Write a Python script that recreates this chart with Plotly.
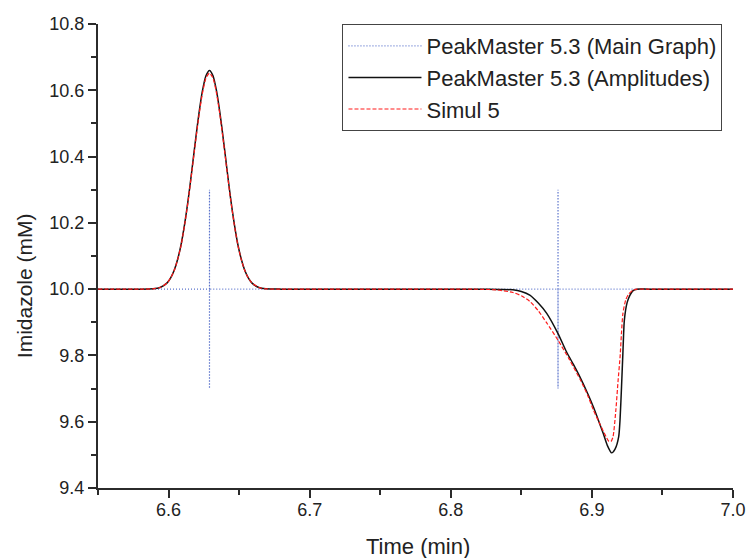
import plotly.graph_objects as go

# ---- data ----
main_x = [6.55, 6.629, 6.629, 6.629, 6.629, 6.876, 6.876, 6.876, 6.876, 7.0]
main_y = [10.0, 10.0, 10.3, 9.7, 10.0, 10.0, 10.3, 9.7, 10.0, 10.0]

amp_x = [6.55, 6.58, 6.589, 6.594, 6.599, 6.6015, 6.604, 6.6065, 6.609, 6.6115, 6.614,
         6.6165, 6.619, 6.6215, 6.624, 6.6265, 6.629, 6.6315, 6.634, 6.6365, 6.639,
         6.6415, 6.644, 6.6465, 6.649, 6.6515, 6.654, 6.6565, 6.659, 6.664, 6.669,
         6.68, 6.82, 6.835, 6.844, 6.85, 6.856, 6.862, 6.868, 6.876, 6.882, 6.887,
         6.892, 6.897, 6.901, 6.905, 6.908, 6.911, 6.914, 6.9165, 6.919, 6.920,
         6.921, 6.922, 6.923, 6.925, 6.927, 6.929, 6.932, 6.94, 7.0]
amp_y = [10.0, 10.0, 10.001, 10.005, 10.019, 10.034, 10.057, 10.091, 10.137, 10.199,
         10.273, 10.358, 10.446, 10.529, 10.598, 10.644, 10.66, 10.644, 10.598, 10.529,
         10.446, 10.358, 10.273, 10.199, 10.137, 10.091, 10.057, 10.034, 10.019, 10.005,
         10.001, 10.0, 10.0, 9.999, 9.998, 9.993, 9.982, 9.958, 9.927, 9.866, 9.811,
         9.772, 9.731, 9.685, 9.645, 9.600, 9.565, 9.528, 9.506, 9.518, 9.555, 9.610,
         9.705, 9.810, 9.906, 9.960, 9.982, 9.995, 10.0, 10.0, 10.0]

sim_x = [6.55, 6.58, 6.589, 6.594, 6.599, 6.6015, 6.604, 6.6065, 6.609, 6.6115, 6.614,
         6.6165, 6.619, 6.6215, 6.624, 6.6265, 6.629, 6.6315, 6.634, 6.6365, 6.639,
         6.6415, 6.644, 6.6465, 6.649, 6.6515, 6.654, 6.6565, 6.659, 6.664, 6.669,
         6.68, 6.815, 6.832, 6.844, 6.85, 6.856, 6.862, 6.868, 6.876, 6.884, 6.892,
         6.897, 6.901, 6.906, 6.910, 6.912, 6.9135, 6.915, 6.917, 6.9185, 6.920, 6.921,
         6.922, 6.924, 6.926, 6.929, 6.932, 6.94, 7.0]
sim_y = [10.0, 10.0, 10.001, 10.005, 10.019, 10.034, 10.056, 10.090, 10.135, 10.197,
         10.270, 10.354, 10.441, 10.523, 10.591, 10.637, 10.652, 10.637, 10.591, 10.523,
         10.441, 10.354, 10.270, 10.197, 10.135, 10.090, 10.056, 10.034, 10.019, 10.005,
         10.001, 10.0, 10.0, 9.998, 9.990, 9.980, 9.963, 9.935, 9.898, 9.846, 9.788,
         9.725, 9.680, 9.636, 9.590, 9.555, 9.541, 9.540, 9.555, 9.636, 9.720, 9.797,
         9.870, 9.927, 9.968, 9.985, 9.996, 10.0, 10.0, 10.0]

names = ["PeakMaster 5.3 (Main Graph)", "PeakMaster 5.3 (Amplitudes)", "Simul 5"]

x_ticks = [6.6, 6.7, 6.8, 6.9, 7.0]
x_labels = ["6.6", "6.7", "6.8", "6.9", "7.0"]
y_ticks = [9.4, 9.6, 9.8, 10.0, 10.2, 10.4, 10.6, 10.8]
y_labels = ["9.4", "9.6", "9.8", "10.0", "10.2", "10.4", "10.6", "10.8"]

FONT = "Arial, Liberation Sans, sans-serif"
AXIS_COL = "#2b2b2b"
TXT = "#222222"

fig = go.Figure()
fig.add_trace(go.Scatter(x=main_x, y=main_y, mode="lines", name=names[0],
                         line=dict(color="#5c74cc", width=1.2, dash="1px,2px")))
fig.add_trace(go.Scatter(x=amp_x, y=amp_y, mode="lines", name=names[1],
                         line=dict(color="#111111", width=1.5, shape="spline", smoothing=0.6)))
fig.add_trace(go.Scatter(x=sim_x, y=sim_y, mode="lines", name=names[2],
                         line=dict(color="#ff1a1a", width=1.2, dash="4px,2px",
                                   shape="spline", smoothing=0.6)))

axis_common = dict(showline=True, linecolor=AXIS_COL, linewidth=2, ticks="outside",
                   tickcolor=AXIS_COL, tickwidth=2, ticklen=8, showgrid=False,
                   zeroline=False, tickfont=dict(family=FONT, size=18, color=TXT),
                   mirror=False, automargin=False)

fig.update_layout(
    width=747, height=558,
    margin=dict(l=98, r=14, t=24, b=70),
    paper_bgcolor="white", plot_bgcolor="white",
    font=dict(family=FONT, color=TXT),
    xaxis=dict(range=[6.55, 7.0], tickvals=x_ticks, ticktext=x_labels,
               ticklabelstandoff=-4,
               minor=dict(dtick=0.05, tick0=6.55, ticks="outside", ticklen=5,
                          tickwidth=2, tickcolor=AXIS_COL),
               **axis_common),
    yaxis=dict(range=[9.4, 10.8], tickvals=y_ticks, ticktext=y_labels,
               minor=dict(dtick=0.1, tick0=9.4, ticks="outside", ticklen=5,
                          tickwidth=2, tickcolor=AXIS_COL),
               **axis_common),
    annotations=[
        dict(text="Imidazole (mM)", textangle=-90, xref="paper", yref="paper",
             x=-0.1165, y=0.435, xanchor="center", yanchor="middle",
             showarrow=False, font=dict(family=FONT, size=21, color=TXT)),
        dict(text="Time (min)", xref="paper", yref="paper",
             x=0.504, y=-0.125, xanchor="center", yanchor="middle",
             showarrow=False, font=dict(family=FONT, size=22, color=TXT)),
    ],
    legend=dict(x=0.385, y=1.0, xanchor="left", yanchor="top",
                bgcolor="white", bordercolor="#444", borderwidth=1,
                font=dict(family=FONT, size=22, color=TXT),
                itemwidth=73, tracegroupgap=0),
    showlegend=True,
)

fig.write_html("out.html")
